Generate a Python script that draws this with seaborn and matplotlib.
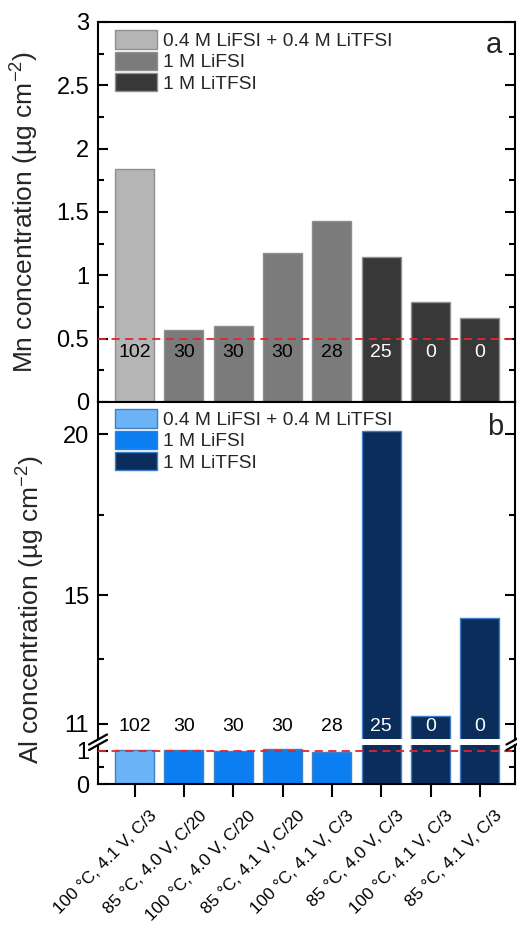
import numpy as np
import pandas as pd
import matplotlib
matplotlib.use("Agg")
import matplotlib.pyplot as plt
import seaborn as sns
from matplotlib.patches import Patch
from matplotlib.lines import Line2D
from matplotlib.ticker import MultipleLocator, FixedLocator
from matplotlib.transforms import ScaledTranslation

# ---------------- data ----------------
conditions = ["100 °C, 4.1 V, C/3", "85 °C, 4.0 V, C/20", "100 °C, 4.0 V, C/20",
              "85 °C, 4.1 V, C/20", "100 °C, 4.1 V, C/3", "85 °C, 4.0 V, C/3",
              "100 °C, 4.1 V, C/3", "85 °C, 4.1 V, C/3"]
electrolytes = ["0.4 M LiFSI + 0.4 M LiTFSI", "1 M LiFSI", "1 M LiTFSI"]
bar_electrolyte = [electrolytes[0], electrolytes[1], electrolytes[1], electrolytes[1],
                   electrolytes[1], electrolytes[2], electrolytes[2], electrolytes[2]]
mn_conc = [1.84, 0.565, 0.60, 1.175, 1.43, 1.145, 0.79, 0.665]
al_conc = [1.04, 1.02, 1.01, 1.05, 0.98, 20.1, 11.25, 14.3]
cycles = [102, 30, 30, 30, 28, 25, 0, 0]
mn_limit = 0.5
al_limit = 1.0

gray_palette = ["#b5b5b5", "#7b7b7b", "#383838"]
blue_palette = ["#6cb4f8", "#0b7ef2", "#0a2d5c"]
label_colors = ["black", "black", "white"]

df = pd.DataFrame({"bar": list(range(len(conditions))),
                   "electrolyte": bar_electrolyte,
                   "mn": mn_conc, "al": al_conc, "cycles": cycles})

# ---------------- style ----------------
sns.set_theme(style="ticks")
plt.rcParams["font.family"] = ["Liberation Sans", "DejaVu Sans"]
plt.rcParams["mathtext.default"] = "regular"
plt.rcParams["axes.linewidth"] = 1.5

fig = plt.figure(figsize=(5.17, 9.25), dpi=100)
L, W = 0.1886, 0.8075
ax_a = fig.add_axes([L, 0.56541, W, 0.41081])
ax_bu = fig.add_axes([L, 0.20162, W, 0.36378])
ax_bl = fig.add_axes([L, 0.15243, W, 0.04216])

XLIM = (-0.75, 7.71)
BAR_W = 0.79


def draw_bars(ax, col, palette, edge):
    sns.barplot(data=df, x="bar", y=col, hue="electrolyte", hue_order=electrolytes,
                palette=palette, dodge=False, width=BAR_W, edgecolor=edge,
                linewidth=1.0, legend=False, ax=ax, saturation=1)
    ax.set_xlim(*XLIM)
    ax.set_xlabel("")
    ax.set_ylabel("")


def style_y(ax):
    ax.tick_params(axis="y", which="both", direction="in", left=True, right=True,
                   labelsize=17, pad=6, width=1.5, colors="black")
    ax.tick_params(axis="y", which="major", length=7)
    ax.tick_params(axis="y", which="minor", length=4)
    for s in ax.spines.values():
        s.set_color("black")
        s.set_linewidth(1.5)


def add_legend(ax, palette, edge):
    handles = [Patch(facecolor=c, edgecolor=edge, linewidth=1.0, label=l)
               for c, l in zip(palette, electrolytes)]
    ax.legend(handles=handles, loc="upper left", bbox_to_anchor=(0.042, 0.978),
              frameon=False, borderpad=0, borderaxespad=0, fontsize=13.8,
              handlelength=2.2, handleheight=1.1, handletextpad=0.32,
              labelspacing=0.08)

# ---------------- panel a ----------------
draw_bars(ax_a, "mn", gray_palette, "#8f8f8f")
ax_a.set_ylim(0, 3)
ax_a.yaxis.set_major_locator(MultipleLocator(0.5))
ax_a.yaxis.set_minor_locator(MultipleLocator(0.25))
ax_a.yaxis.set_major_formatter(plt.FuncFormatter(lambda v, p: f"{v:g}"))
ax_a.tick_params(axis="x", bottom=False, top=False, labelbottom=False)
style_y(ax_a)
ax_a.axhline(mn_limit, color="#e3262b", lw=1.3, ls=(0, (4.5, 3)), zorder=5)
for i, (c, e) in enumerate(zip(cycles, bar_electrolyte)):
    ax_a.text(i, 0.39, str(c), ha="center", va="center", fontsize=14,
              color=label_colors[electrolytes.index(e)], zorder=6)
add_legend(ax_a, gray_palette, "#8f8f8f")
ax_a.text(0.949, 0.94, "a", transform=ax_a.transAxes, fontsize=21,
          ha="center", va="center")

# ---------------- panel b (broken axis) ----------------
for ax in (ax_bu, ax_bl):
    draw_bars(ax, "al", blue_palette, "#3f7fc8")
    style_y(ax)

ax_bu.set_ylim(10.54, 21)
ax_bu.yaxis.set_major_locator(FixedLocator([11, 15, 20]))
ax_bu.yaxis.set_minor_locator(FixedLocator([13, 17.5]))
ax_bu.tick_params(axis="x", bottom=False, top=False, labelbottom=False)
ax_bu.spines["bottom"].set_visible(False)
for i, (c, e) in enumerate(zip(cycles, bar_electrolyte)):
    ax_bu.text(i, 10.9, str(c), ha="center", va="center", fontsize=14,
               color=label_colors[electrolytes.index(e)], zorder=6)
add_legend(ax_bu, blue_palette, "#3f7fc8")
ax_bu.text(0.952, 0.927, "b", transform=ax_bu.transAxes, fontsize=21,
           ha="center", va="center")

ax_bl.set_ylim(0, 1.18)
ax_bl.yaxis.set_major_locator(FixedLocator([0, 1]))
ax_bl.yaxis.set_minor_locator(FixedLocator([0.5]))
ax_bl.spines["top"].set_visible(False)
ax_bl.axhline(al_limit, color="#e3262b", lw=1.3, ls=(0, (4.5, 3)), zorder=5)
ax_bl.set_xticks(range(len(conditions)))
ax_bl.set_xticklabels(conditions)
ax_bl.tick_params(axis="x", which="major", direction="out", bottom=True, top=False,
                  length=9.5, width=1.5, pad=11.5, labelsize=12.5, colors="black")
offset = ScaledTranslation(0.2, 0, fig.dpi_scale_trans)
for lab in ax_bl.get_xticklabels():
    lab.set_rotation(45)
    lab.set_ha("right")
    lab.set_va("center")
    lab.set_rotation_mode("anchor")
    lab.set_transform(lab.get_transform() + offset)

# break marks
FW, FH = 517.0, 925.0
def px(x, y):
    return x / FW, 1 - y / FH
for xc in (98.0, 515.5):
    for dy in (-2.5, 3.0):
        x0, y0 = px(xc - 9, 742 + dy + 5)
        x1, y1 = px(xc + 9, 742 + dy - 5)
        fig.add_artist(Line2D([x0, x1], [y0, y1], transform=fig.transFigure,
                              color="black", lw=1.6, clip_on=False))

# y labels
fig.text(24.5 / FW, 1 - 212 / FH, "Mn concentration (µg cm$^{-2}$)", rotation=90,
         fontsize=19, ha="center", va="center")
fig.text(31 / FW, 1 - 609.5 / FH, "Al concentration (µg cm$^{-2}$)", rotation=90,
         fontsize=19, ha="center", va="center")

fig.savefig("out.png", dpi=100)
